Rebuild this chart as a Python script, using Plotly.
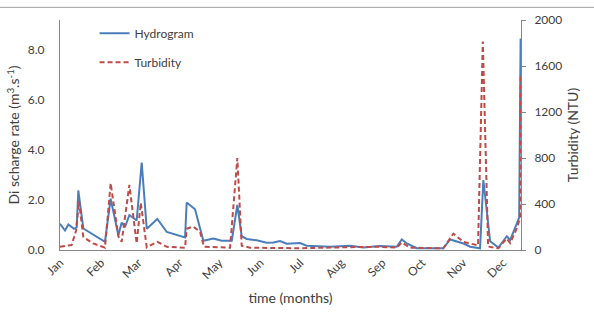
import pandas as pd
import plotly.graph_objects as go

# --- data (day of year from 1 Jan, value) ---
hydro_day = [0, 3.8, 6.3, 10.6, 12.6, 13.8, 17.6, 33.9, 38.2, 44, 46.5, 49, 52.3, 57.8, 61.6, 65.4,
             73.4, 80.5, 94.3, 95.5, 101.8, 108.1, 115.6, 121.9, 129.5, 133.7, 137, 140.8, 148.3,
             155.9, 160.9, 165.9, 171, 181, 186, 203.6, 218.7, 228.7, 241.3, 253.9, 257.7, 261.5,
             269, 289, 294.1, 299.2, 304.2, 309.2, 316.7, 319.2, 324.3, 330.5, 336.9, 339.4, 343.1,
             346.2, 347.3]
hydro_val = [1.05, 0.78, 1.02, 0.85, 0.91, 2.38, 0.86, 0.33, 2.05, 0.59, 1.1, 0.91, 1.4, 1.18, 3.5, 0.85,
             1.24, 0.72, 0.5, 1.9, 1.63, 0.37, 0.46, 0.37, 0.37, 1.8, 0.55, 0.44, 0.39,
             0.29, 0.3, 0.36, 0.25, 0.28, 0.17, 0.13, 0.17, 0.1, 0.16, 0.13, 0.42, 0.26,
             0.07, 0.07, 0.42, 0.33, 0.26, 0.13, 0.07, 2.8, 0.35, 0.1, 0.55, 0.4, 0.85,
             1.3, 8.46]
turb_day = [0, 8.8, 12.1, 14.3, 17.6, 24.9, 33.9, 38.2, 44, 46.5, 52.3, 57.8, 60.9, 65.4, 73.4, 80.5,
            94.3, 95.5, 100.5, 105.6, 108.6, 128.2, 133.7, 137, 143.3, 181, 218.7, 241.3, 253.9,
            257.7, 264, 289, 296.6, 304.2, 315.2, 318.8, 322.8, 330.5, 336.9, 339.4, 344.4, 346.9,
            347.3]
turb_val = [28, 43, 170, 425, 113, 57, 20, 581, 119, 71, 567, 57, 411, 23, 71, 28,
            20, 185, 204, 156, 28, 20, 800, 37, 20, 15, 25, 28, 20,
            65, 20, 15, 142, 70, 40, 1813, 30, 15, 100, 60, 187, 280,
            1515]
month_labels = ["Jan", "Feb", "Mar", "Apr", "May", "Jun", "Jul", "Aug", "Sep", "Oct", "Nov", "Dec"]

base = pd.Timestamp("2011-01-01")
hx = [base + pd.Timedelta(days=d) for d in hydro_day]
tx = [base + pd.Timedelta(days=d) for d in turb_day]
month_ticks = [pd.Timestamp(f"2011-{m:02d}-01") for m in range(1, 13)]

FONT = "Lato"
TXT = "#404040"
AX = "#868686"

fig = go.Figure()
fig.add_trace(go.Scatter(x=hx, y=hydro_val, mode="lines", name="Hydrogram",
                         line=dict(color="#4A7EBB", width=2), legendgroup="a"))
fig.add_trace(go.Scatter(x=tx, y=turb_val, mode="lines", name="Turbidity", yaxis="y2",
                         line=dict(color="#BE4B48", width=2, dash="5px,3px"), legendgroup="b"))

fig.update_layout(
    width=594, height=318,
    margin=dict(l=60, r=73, t=15, b=68),
    paper_bgcolor="white", plot_bgcolor="white",
    font=dict(family=FONT, size=12, color=TXT),
    showlegend=True,
    legend=dict(x=0.075, y=1.005, xanchor="left", yanchor="top", bgcolor="rgba(0,0,0,0)",
                font=dict(size=12, color=TXT), traceorder="grouped", tracegroupgap=10),
    xaxis=dict(range=[base, pd.Timestamp("2011-12-14 14:00")], tickvals=month_ticks,
               ticktext=month_labels, tickangle=-45, showgrid=False, zeroline=False,
               showline=True, linecolor=AX, linewidth=1, ticks="", tickfont=dict(size=12),
               title=dict(text="time (months)", font=dict(size=14, color=TXT), standoff=12)),
    yaxis=dict(range=[0, 9.2], tickvals=[0, 2, 4, 6, 8], tickformat=".1f", showgrid=False,
               zeroline=False, showline=True, linecolor=AX, linewidth=1, ticks="",
               ticklabelstandoff=12, tickfont=dict(size=12),
               title=dict(text="Di scharge rate (m<sup>3</sup>.s<sup>-1</sup>)",
                          font=dict(size=14, color=TXT), standoff=4)),
    yaxis2=dict(range=[0, 2000], tickvals=[0, 400, 800, 1200, 1600, 2000], overlaying="y",
                side="right", showgrid=False, zeroline=False, showline=True, linecolor=AX,
                linewidth=1, ticks="outside", ticklen=4, tickcolor=AX, ticklabelstandoff=6,
                tickfont=dict(size=12),
                title=dict(text="Turbidity (NTU)", font=dict(size=14, color=TXT), standoff=6)),
    shapes=[dict(type="line", xref="paper", yref="paper", x0=-0.2, x1=1.2, y0=1.055, y1=1.055,
                 line=dict(color="#a0a0a0", width=1))],
)

fig.write_html("out.html")
